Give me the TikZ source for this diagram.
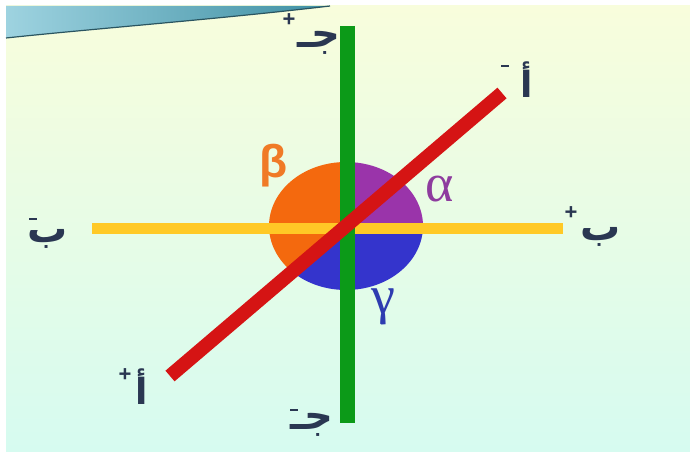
\documentclass[tikz,border=0pt]{standalone}
\usepackage{fontspec}
\setmainfont{Liberation Sans}
\newfontfamily\serifgreek{Liberation Serif}
\newfontfamily\arabicfont[Script=Arabic]{DejaVu Sans}
\TeXXeTstate=1
\usetikzlibrary{shadings}
\definecolor{bgtop}{HTML}{F8FDDC}
\definecolor{bgbot}{HTML}{D6FBF0}
\definecolor{linegreen}{HTML}{0C9A18}
\definecolor{lineyellow}{HTML}{FFC926}
\definecolor{linered}{HTML}{D51414}
\definecolor{secorange}{HTML}{F4690E}
\definecolor{secpurple}{HTML}{9A34AA}
\definecolor{secblue}{HTML}{3434CC}
\definecolor{txtorange}{HTML}{F07A26}
\definecolor{txtpurple}{HTML}{8E3C9E}
\definecolor{txtblue}{HTML}{2E3CB0}
\definecolor{ink}{HTML}{2A3752}
\definecolor{bandlight}{HTML}{9ED3E0}
\definecolor{bandmid}{HTML}{3E8FA3}
\definecolor{banddark}{HTML}{2A5560}
\tikzset{
  axisline/.style={line width=#1, line cap=butt},
  greek/.style={inner sep=0pt},
  arlet/.style={inner sep=0pt, text=ink, font=\arabicfont\bfseries\fontsize{40}{40}\selectfont},
  alefstyle/.style={inner sep=0pt, text=ink, font=\arabicfont\bfseries\fontsize{36}{36}\selectfont},
  sign/.style={inner sep=0pt, text=ink, font=\bfseries\fontsize{22}{22}\selectfont},
}
\newcommand{\minussign}{\rule{8pt}{2.8pt}}
\begin{document}
\begin{tikzpicture}[x=1pt,y=1pt]
\useasboundingbox (0,0) rectangle (690,451);
% frame and background
\fill[white] (0,0) rectangle (690,451);
\shade[top color=bgtop, bottom color=bgbot] (6,0) rectangle (690,445);
% top band
\shade[left color=bandlight, right color=bandmid]
  (6,445) -- (330,445) .. controls (220,432) and (90,422) .. (6,413) -- cycle;
\draw[banddark, line width=1.2pt] (330,445) .. controls (220,432) and (90,422) .. (6,413);
% circle sectors
\coordinate (o) at (346,225);
\fill[secpurple] (o) -- ++(77,0) arc[start angle=0, end angle=90, x radius=77, y radius=64] -- cycle;
\fill[secorange] (o) -- ++(0,64) arc[start angle=90, end angle=225.7, x radius=77, y radius=64] -- cycle;
\fill[secblue] (o) -- ++({77*cos(225.7)},{64*sin(225.7)}) arc[start angle=225.7, end angle=360, x radius=77, y radius=64] -- cycle;
% axes
\coordinate (bl) at (92,223);
\coordinate (br) at (563,223);
\coordinate (jt) at (347,425);
\coordinate (jb) at (347,28);
\coordinate (ab) at (170,75);
\coordinate (at) at (502,358);
\draw[axisline=11pt, lineyellow] (bl) -- (br);
\draw[axisline=15pt, linegreen] (jt) -- (jb);
\draw[axisline=14pt, linered] (ab) -- (at);
% greek labels
\node[greek, text=txtorange, font=\bfseries\fontsize{46}{46}\selectfont] (beta) at (274,285) {β};
\node[greek, text=txtpurple, font=\serifgreek\fontsize{54}{54}\selectfont] (alpha) at (440,262) {α};
\node[greek, text=txtblue, font=\serifgreek\fontsize{54}{54}\selectfont] (gamma) at (383,144) {γ};
% arabic labels
\node[arlet] (jtop) at (319,408) {\beginR جـ\endR};
\node[sign] (jtops) at (289,431) {+};
\node[arlet] (jbot) at (312,26) {\beginR جـ\endR};
\node[sign] (jbots) at (294,41) {\minussign};
\node[arlet] (bleft) at (48,212) {\beginR ب\endR};
\node[sign] (blefts) at (33,232) {\minussign};
\node[arlet] (bright) at (601,214) {\beginR ب\endR};
\node[sign] (brights) at (571,238) {+};
\node[alefstyle] (atop) at (527,371) {\beginR أ\endR};
\node[sign] (atops) at (505,385) {\minussign};
\node[alefstyle] (abot) at (142,64) {\beginR أ\endR};
\node[sign] (abots) at (125,76) {+};
\end{tikzpicture}
\end{document}
